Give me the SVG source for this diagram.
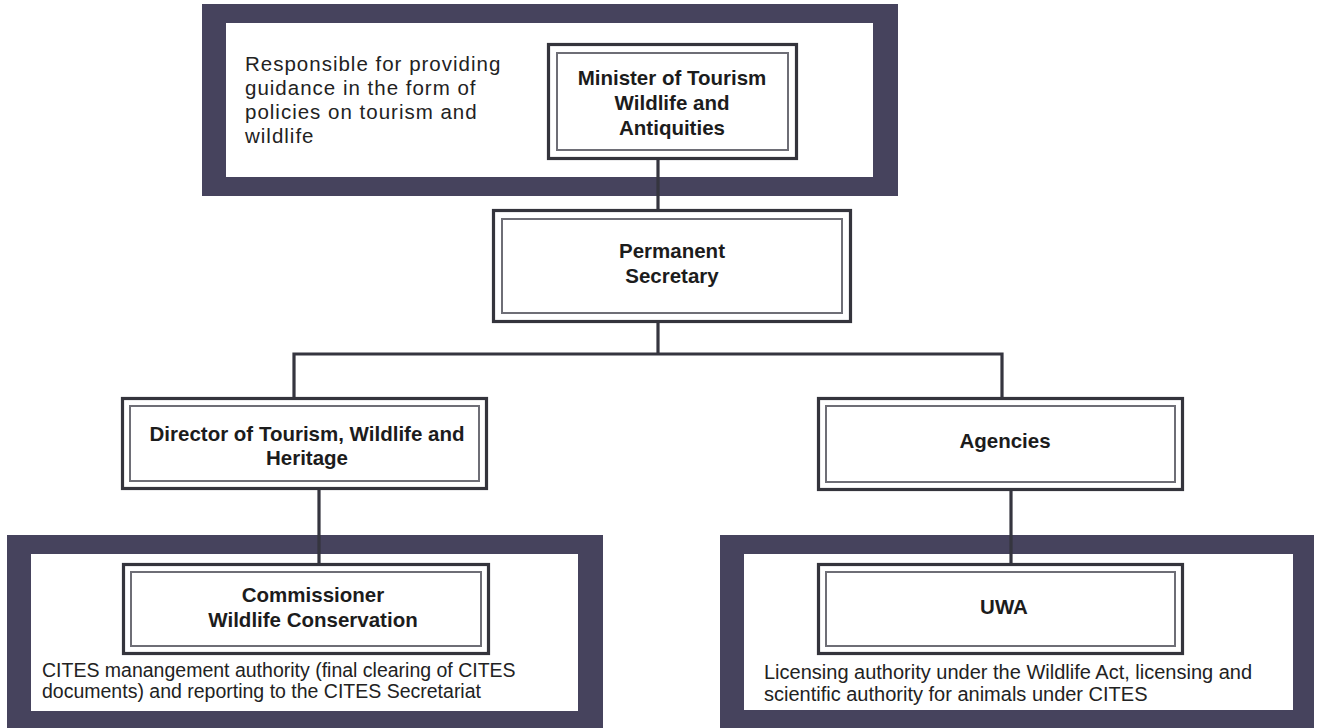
<svg xmlns="http://www.w3.org/2000/svg" width="1317" height="728" viewBox="0 0 1317 728">
<style>
.frame{fill:#46435d;fill-rule:evenodd}
.ob{fill:#ffffff;stroke:#34343c;stroke-width:3.2}
.ib{fill:none;stroke:#6e6e76;stroke-width:2}
.lbl{font-family:"Liberation Sans",Arial,sans-serif;font-weight:bold;font-size:20.5px;fill:#1c1c1c;text-anchor:middle}
.desc{font-family:"Liberation Sans",Arial,sans-serif;font-size:19.5px;fill:#222}
.big{font-size:20.5px;letter-spacing:1px}
.conn{stroke:#35353f;stroke-width:3.2;fill:none}
</style>
<rect width="1317" height="728" fill="#ffffff"/>
<g id="frames">
<path class="frame" d="M202,4H898V196H202Z M226,23V177H873V23Z"/>
<path class="frame" d="M7,535H603V728H7Z M31,554V711H578V554Z"/>
<path class="frame" d="M720,535H1314V728H720Z M744,554V710H1293V554Z"/>
</g>
<g id="connectors">
<path class="conn" d="M658,160V209"/>
<path class="conn" d="M658,323V354"/>
<path class="conn" d="M294,397V354H1002V397"/>
<path class="conn" d="M319,490V563"/>
<path class="conn" d="M1011,491V563"/>
</g>
<g id="policy-note">
<text class="desc big" x="245" y="71">Responsible for providing</text>
<text class="desc big" x="245" y="95">guidance in the form of</text>
<text class="desc big" x="245" y="119">policies on tourism and</text>
<text class="desc big" x="245" y="143">wildlife</text>
</g>
<g id="minister">
<rect class="ob" x="548.5" y="44.5" width="248" height="114"/>
<rect class="ib" x="557" y="53" width="231" height="97"/>
<text class="lbl" x="672" y="85">Minister of Tourism</text>
<text class="lbl" x="672" y="110">Wildlife and</text>
<text class="lbl" x="672" y="135">Antiquities</text>
</g>
<g id="permanent-secretary">
<rect class="ob" x="493.5" y="210.5" width="357" height="111"/>
<rect class="ib" x="502" y="219" width="340" height="94"/>
<text class="lbl" x="672" y="258">Permanent</text>
<text class="lbl" x="672" y="283">Secretary</text>
</g>
<g id="director">
<rect class="ob" x="122.5" y="398.5" width="364" height="90"/>
<rect class="ib" x="130" y="406" width="349" height="75"/>
<text class="lbl" x="307" y="441">Director of Tourism, Wildlife and</text>
<text class="lbl" x="307" y="465">Heritage</text>
</g>
<g id="agencies">
<rect class="ob" x="818.5" y="398.5" width="364" height="91"/>
<rect class="ib" x="826" y="406" width="349" height="76"/>
<text class="lbl" x="1005" y="448">Agencies</text>
</g>
<g id="commissioner">
<rect class="ob" x="123.5" y="564.5" width="365" height="89"/>
<rect class="ib" x="131" y="572" width="350" height="74"/>
<text class="lbl" x="313" y="602">Commissioner</text>
<text class="lbl" x="313" y="627">Wildlife Conservation</text>
</g>
<g id="uwa">
<rect class="ob" x="818.5" y="564.5" width="364" height="89"/>
<rect class="ib" x="826" y="572" width="349" height="74"/>
<text class="lbl" x="1004" y="614">UWA</text>
</g>
<g id="cites-note">
<text class="desc" x="42" y="677">CITES manangement authority (final clearing of CITES</text>
<text class="desc" x="42" y="698">documents) and reporting to the CITES Secretariat</text>
</g>
<g id="uwa-note">
<text class="desc" x="764" y="679" style="font-size:20px">Licensing authority under the Wildlife Act, licensing and</text>
<text class="desc" x="764" y="701" style="font-size:20px">scientific authority for animals under CITES</text>
</g>
</svg>
